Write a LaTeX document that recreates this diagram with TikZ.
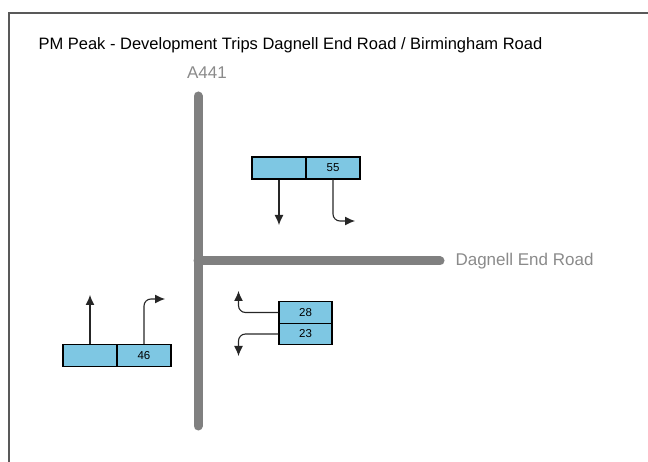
\documentclass[tikz,border=0pt]{standalone}
\usepackage{fontspec}
\setmainfont{Liberation Sans}
\usetikzlibrary{arrows.meta}
\definecolor{cellblue}{RGB}{126,199,227}
\definecolor{roadgray}{RGB}{128,128,128}
\definecolor{labelgray}{RGB}{138,138,138}
\tikzset{
  cell/.style={draw, line width=1.4pt, fill=cellblue, minimum width=54pt, minimum height=22pt, inner sep=0pt, font=\fontsize{11.5}{12}\selectfont},
  road/.style={roadgray, line width=9pt, line cap=round},
  flow/.style={black!85, line width=1.1pt, rounded corners=7pt, -{Latex[length=10pt,width=9pt]}}
}
\begin{document}
\begin{tikzpicture}[x=1pt,y=-1pt]
\useasboundingbox (0,0) rectangle (648,462);
\draw[black!65, line width=1.3pt] (9,462) -- (9,13) -- (648,13);

\node[anchor=west, font=\fontsize{16.5}{18}\selectfont] (title) at (35,45) {PM Peak - Development Trips Dagnell End Road / Birmingham Road};

\node[labelgray, font=\fontsize{17}{18}\selectfont] (a441) at (207,73) {A441};
\node[labelgray, anchor=west, font=\fontsize{17}{18}\selectfont] (dagnell) at (452,261) {Dagnell End Road};

\coordinate (rtop) at (198,96);
\coordinate (rbot) at (198,426);
\coordinate (rjoin) at (198,261);
\coordinate (rend) at (440,261);
\draw[road] (rjoin) -- (rend);
\draw[road] (rtop) -- (rbot);

% north arm
\node[cell] (t1) at (279,168) {};
\node[cell] (t2) at (333,168) {55};
\coordinate (t1end) at (279,225);
\coordinate (t2end) at (355,221);
\draw[flow] (t1.south) -- (t1end);
\draw[flow] (t2.south) |- (t2end);

% west arm
\node[cell] (l1) at (90,355.5) {};
\node[cell] (l2) at (144,355.5) {46};
\coordinate (l1end) at (90,295);
\coordinate (l2end) at (165,299);
\draw[flow] (l1.north) -- (l1end);
\draw[flow] (l2.north) |- (l2end);

% east arm
\node[cell, minimum width=53pt, minimum height=21.5pt] (c28) at (305.5,312.5) {28};
\node[cell, minimum width=53pt, minimum height=21.5pt] (c23) at (305.5,334) {23};
\coordinate (c28end) at (238.5,291);
\coordinate (c23end) at (238.5,356);
\draw[flow] (c28.west) -| (c28end);
\draw[flow] (c23.west) -| (c23end);
\end{tikzpicture}
\end{document}
